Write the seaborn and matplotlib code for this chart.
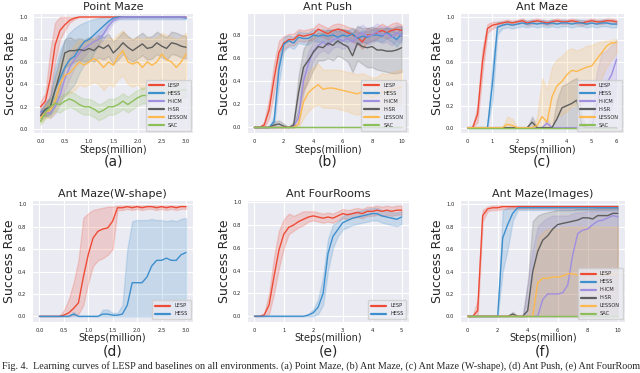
import numpy as np
import pandas as pd
import seaborn as sns
import matplotlib.pyplot as plt

# methods and colours
methods = ['LESP', 'HESS', 'H-ICM', 'H-SR', 'LESSON', 'SAC']
colors = ['#ee4b36', '#3d8fcd', '#a08ee0', '#5d5d5d', '#fdb94e', '#8cbf5a']

# ---------------- (a) Point Maze, steps 0..3.0 ----------------
a_x = np.linspace(0, 3.0, 31)
a_lesp = [0.20, 0.25, 0.45, 0.75, 0.88, 0.93, 0.97, 0.99] + [1.0] * 23
a_lesp_lo = [0.15, 0.12, 0.30, 0.60, 0.80, 0.88, 0.95, 0.98] + [1.0] * 23
a_lesp_hi = [0.25, 0.32, 0.70, 0.95, 1.0, 1.0, 1.0, 1.0] + [1.0] * 23
a_hess = [0.15, 0.17, 0.20, 0.35, 0.45, 0.55, 0.62, 0.65, 0.72, 0.78, 0.80, 0.84, 0.88, 0.92, 0.96, 0.99] + [1.0] * 14 + [0.99]
a_hess_lo = [0.12, 0.12, 0.12, 0.20, 0.25, 0.30, 0.35, 0.40, 0.50, 0.58, 0.60, 0.68, 0.76, 0.85, 0.92, 0.97] + [0.98] * 15
a_hess_hi = [0.18, 0.22, 0.30, 0.55, 0.70, 0.80, 0.86, 0.90, 0.93, 0.95, 0.97, 0.98, 0.99, 1.0, 1.0, 1.0] + [1.0] * 15
a_hicm = [0.15, 0.15, 0.14, 0.20, 0.30, 0.45, 0.55, 0.62, 0.68, 0.72, 0.75, 0.78, 0.80, 0.85, 0.92, 0.97, 0.99] + [1.0] * 14
a_hicm_lo = [0.12, 0.12, 0.10, 0.14, 0.22, 0.35, 0.45, 0.55, 0.60, 0.65, 0.70, 0.73, 0.75, 0.80, 0.88, 0.95, 0.98] + [0.99] * 14
a_hicm_hi = [0.18, 0.18, 0.18, 0.27, 0.40, 0.55, 0.65, 0.70, 0.75, 0.78, 0.80, 0.83, 0.86, 0.90, 0.96, 0.99, 1.0] + [1.0] * 14
a_hsr = [0.12, 0.18, 0.20, 0.35, 0.50, 0.68, 0.70, 0.70, 0.71, 0.70, 0.72, 0.70, 0.74, 0.72, 0.75, 0.68,
         0.72, 0.77, 0.73, 0.70, 0.73, 0.76, 0.72, 0.73, 0.77, 0.74, 0.72, 0.77, 0.76, 0.74, 0.73]
a_hsr_lo = [0.08, 0.12, 0.14, 0.25, 0.38, 0.55, 0.58, 0.60, 0.62, 0.60, 0.62, 0.60, 0.64, 0.62, 0.65, 0.58,
            0.62, 0.67, 0.63, 0.60, 0.63, 0.66, 0.62, 0.63, 0.67, 0.64, 0.62, 0.67, 0.66, 0.64, 0.63]
a_hsr_hi = [0.16, 0.24, 0.28, 0.48, 0.64, 0.80, 0.82, 0.80, 0.81, 0.80, 0.82, 0.80, 0.84, 0.82, 0.85, 0.78,
            0.82, 0.87, 0.83, 0.80, 0.83, 0.86, 0.82, 0.83, 0.87, 0.84, 0.82, 0.87, 0.86, 0.84, 0.83]
a_lesson = [0.10, 0.15, 0.17, 0.25, 0.40, 0.48, 0.50, 0.55, 0.60, 0.57, 0.60, 0.63, 0.60, 0.55, 0.60, 0.57,
            0.65, 0.70, 0.60, 0.58, 0.60, 0.55, 0.60, 0.57, 0.60, 0.67, 0.62, 0.60, 0.55, 0.60, 0.67]
a_lesson_lo = [0.06, 0.10, 0.10, 0.15, 0.25, 0.30, 0.32, 0.35, 0.40, 0.38, 0.40, 0.42, 0.40, 0.35, 0.40, 0.38,
               0.45, 0.48, 0.40, 0.38, 0.40, 0.35, 0.40, 0.38, 0.40, 0.45, 0.42, 0.40, 0.38, 0.42, 0.46]
a_lesson_hi = [0.14, 0.20, 0.25, 0.40, 0.58, 0.68, 0.70, 0.75, 0.80, 0.78, 0.80, 0.82, 0.80, 0.78, 0.82, 0.80,
               0.85, 0.88, 0.82, 0.80, 0.82, 0.80, 0.82, 0.80, 0.82, 0.86, 0.84, 0.82, 0.80, 0.82, 0.86]
a_sac = [0.07, 0.15, 0.20, 0.23, 0.22, 0.25, 0.27, 0.25, 0.22, 0.20, 0.20, 0.18, 0.15, 0.17, 0.20, 0.20,
         0.22, 0.25, 0.22, 0.25, 0.28, 0.30, 0.30, 0.33, 0.32, 0.33, 0.32, 0.33, 0.34, 0.35, 0.35]
a_sac_lo = [0.04, 0.10, 0.13, 0.16, 0.15, 0.18, 0.20, 0.18, 0.15, 0.13, 0.13, 0.11, 0.08, 0.10, 0.13, 0.13,
            0.15, 0.18, 0.15, 0.18, 0.21, 0.23, 0.23, 0.26, 0.25, 0.26, 0.25, 0.26, 0.27, 0.28, 0.28]
a_sac_hi = [0.10, 0.20, 0.27, 0.30, 0.29, 0.32, 0.34, 0.32, 0.29, 0.27, 0.27, 0.25, 0.22, 0.24, 0.27, 0.27,
            0.29, 0.32, 0.29, 0.32, 0.35, 0.37, 0.37, 0.40, 0.39, 0.40, 0.39, 0.40, 0.41, 0.42, 0.42]

# ---------------- (b) Ant Push, steps 0..10 ----------------
b_x = np.linspace(0, 10, 31)
b_lesp = [0, 0, 0.02, 0.15, 0.42, 0.65, 0.73, 0.76, 0.76, 0.80, 0.79, 0.80, 0.81, 0.85, 0.83, 0.81,
          0.84, 0.85, 0.84, 0.82, 0.80, 0.78, 0.74, 0.80, 0.80, 0.82, 0.84, 0.82, 0.84, 0.85, 0.84]
b_lesp_lo = [0, 0, 0, 0.08, 0.30, 0.55, 0.68, 0.71, 0.71, 0.75, 0.74, 0.75, 0.76, 0.80, 0.78, 0.76,
             0.79, 0.80, 0.79, 0.77, 0.74, 0.72, 0.68, 0.74, 0.75, 0.77, 0.79, 0.77, 0.79, 0.80, 0.79]
b_lesp_hi = [0, 0, 0.05, 0.25, 0.55, 0.75, 0.79, 0.81, 0.81, 0.85, 0.84, 0.85, 0.86, 0.90, 0.88, 0.86,
             0.89, 0.90, 0.89, 0.87, 0.86, 0.84, 0.80, 0.86, 0.85, 0.87, 0.90, 0.87, 0.90, 0.91, 0.89]
b_hess = [0, 0, 0, 0, 0.05, 0.50, 0.72, 0.75, 0.73, 0.78, 0.77, 0.77, 0.80, 0.79, 0.80, 0.79,
          0.80, 0.78, 0.80, 0.79, 0.81, 0.77, 0.79, 0.78, 0.80, 0.80, 0.79, 0.82, 0.79, 0.76, 0.81]
b_hess_lo = [0, 0, 0, 0, 0.0, 0.38, 0.66, 0.70, 0.68, 0.73, 0.72, 0.72, 0.75, 0.74, 0.75, 0.74,
             0.75, 0.73, 0.75, 0.74, 0.76, 0.72, 0.74, 0.73, 0.75, 0.75, 0.74, 0.77, 0.74, 0.70, 0.76]
b_hess_hi = [0, 0, 0, 0, 0.10, 0.62, 0.78, 0.80, 0.78, 0.83, 0.82, 0.82, 0.85, 0.84, 0.85, 0.84,
             0.85, 0.83, 0.85, 0.84, 0.86, 0.82, 0.84, 0.83, 0.85, 0.85, 0.84, 0.87, 0.84, 0.82, 0.86]
b_hicm = [0, 0, 0, 0, 0, 0, 0, 0, 0.01, 0.08, 0.40, 0.55, 0.66, 0.71, 0.74, 0.71,
          0.76, 0.77, 0.75, 0.77, 0.74, 0.79, 0.82, 0.79, 0.80, 0.83, 0.80, 0.81, 0.78, 0.82, 0.80]
b_hicm_lo = [0, 0, 0, 0, 0, 0, 0, 0, 0, 0.02, 0.28, 0.45, 0.58, 0.64, 0.67, 0.64,
             0.69, 0.70, 0.68, 0.70, 0.67, 0.72, 0.75, 0.72, 0.73, 0.76, 0.73, 0.74, 0.71, 0.75, 0.73]
b_hicm_hi = [0, 0, 0, 0, 0, 0, 0, 0, 0.03, 0.15, 0.52, 0.65, 0.74, 0.78, 0.81, 0.78,
             0.83, 0.84, 0.82, 0.84, 0.81, 0.86, 0.89, 0.86, 0.87, 0.90, 0.87, 0.88, 0.85, 0.89, 0.87]
b_hsr = [0, 0, 0, 0, 0.02, 0.03, 0.01, 0, 0.02, 0.30, 0.52, 0.58, 0.65, 0.70, 0.69, 0.73,
         0.71, 0.75, 0.72, 0.70, 0.62, 0.73, 0.70, 0.69, 0.70, 0.67, 0.67, 0.66, 0.66, 0.67, 0.69]
b_hsr_lo = [0, 0, 0, 0, 0, 0, 0, 0, 0, 0.15, 0.32, 0.40, 0.50, 0.58, 0.58, 0.60,
            0.58, 0.62, 0.60, 0.57, 0.48, 0.58, 0.55, 0.52, 0.52, 0.50, 0.49, 0.48, 0.47, 0.47, 0.48]
b_hsr_hi = [0, 0, 0, 0, 0.05, 0.06, 0.03, 0, 0.05, 0.45, 0.68, 0.75, 0.80, 0.82, 0.82, 0.85,
            0.84, 0.86, 0.85, 0.84, 0.82, 0.88, 0.86, 0.86, 0.87, 0.86, 0.86, 0.86, 0.86, 0.87, 0.88]
b_lesson = [0] * 9 + [0.03, 0.22, 0.30, 0.34, 0.37, 0.33, 0.34, 0.34, 0.33, 0.32, 0.31, 0.30,
                      0.29, 0.31, 0.28, 0.26, 0.28, 0.31, 0.30, 0.33, 0.34, 0.35]
b_lesson_lo = [0] * 9 + [0.0, 0.08, 0.14, 0.18, 0.20, 0.17, 0.17, 0.17, 0.16, 0.15, 0.14, 0.12,
                         0.11, 0.13, 0.11, 0.10, 0.12, 0.15, 0.15, 0.18, 0.19, 0.20]
b_lesson_hi = [0] * 9 + [0.08, 0.38, 0.48, 0.52, 0.55, 0.50, 0.50, 0.50, 0.50, 0.49, 0.48, 0.47,
                         0.46, 0.47, 0.45, 0.43, 0.44, 0.47, 0.46, 0.48, 0.49, 0.50]
b_sac = [0] * 31

# ---------------- (c) Ant Maze, steps 0..6 ----------------
c_x = np.linspace(0, 6, 31)
c_lesp = [0, 0, 0.12, 0.60, 0.90, 0.93, 0.94, 0.95, 0.96, 0.95, 0.96, 0.97, 0.95, 0.96, 0.97, 0.96,
          0.95, 0.96, 0.97, 0.96, 0.96, 0.97, 0.96, 0.95, 0.96, 0.97, 0.96, 0.96, 0.97, 0.97, 0.96]
c_lesp_lo = [0, 0, 0.05, 0.50, 0.86, 0.90, 0.92, 0.93, 0.94, 0.93, 0.94, 0.95, 0.93, 0.94, 0.95, 0.94,
             0.93, 0.94, 0.95, 0.94, 0.94, 0.95, 0.94, 0.93, 0.94, 0.95, 0.94, 0.94, 0.95, 0.95, 0.94]
c_lesp_hi = [0, 0, 0.20, 0.72, 0.94, 0.96, 0.96, 0.97, 0.98, 0.97, 0.98, 0.99, 0.97, 0.98, 0.99, 0.98,
             0.97, 0.98, 0.99, 0.98, 0.98, 0.99, 0.98, 0.97, 0.98, 0.99, 0.98, 0.98, 0.99, 0.99, 0.98]
c_hess = [0, 0, 0, 0, 0, 0.40, 0.91, 0.93, 0.94, 0.93, 0.94, 0.95, 0.94, 0.95, 0.94, 0.95,
          0.94, 0.95, 0.94, 0.95, 0.95, 0.94, 0.95, 0.95, 0.94, 0.95, 0.94, 0.95, 0.95, 0.94, 0.94]
c_hess_lo = [0, 0, 0, 0, 0, 0.25, 0.85, 0.90, 0.91, 0.90, 0.91, 0.92, 0.91, 0.92, 0.91, 0.92,
             0.91, 0.92, 0.91, 0.92, 0.92, 0.91, 0.92, 0.92, 0.91, 0.92, 0.91, 0.92, 0.92, 0.91, 0.91]
c_hess_hi = [0, 0, 0, 0, 0, 0.58, 0.96, 0.96, 0.97, 0.96, 0.97, 0.98, 0.97, 0.98, 0.97, 0.98,
             0.97, 0.98, 0.97, 0.98, 0.98, 0.97, 0.98, 0.98, 0.97, 0.98, 0.97, 0.98, 0.98, 0.97, 0.97]
c_hicm = [0] * 16 + [0.04, 0, 0, 0, 0, 0, 0, 0.02, 0, 0, 0.20, 0.37, 0.40, 0.48, 0.62]
c_hicm_lo = [0] * 26 + [0.02, 0.10, 0.12, 0.18, 0.40]
c_hicm_hi = [0] * 16 + [0.08, 0, 0, 0, 0, 0, 0, 0.05, 0, 0.10, 0.50, 0.68, 0.70, 0.75, 0.80]
c_hsr = [0] * 13 + [0.05] + [0] * 4 + [0.08, 0.18, 0.20, 0.22, 0.25, 0.02] + [0] * 7
c_hsr_lo = [0] * 31
c_hsr_hi = [0] * 13 + [0.10] + [0] * 4 + [0.25, 0.38, 0.40, 0.43, 0.45, 0.10] + [0] * 7
c_lesson = [0] * 8 + [0.03, 0.02] + [0] * 4 + [0.02, 0.10, 0.05, 0.28, 0.38, 0.42, 0.48, 0.52, 0.51,
                                              0.53, 0.55, 0.56, 0.62, 0.68, 0.74, 0.77, 0.77]
c_lesson_lo = [0] * 17 + [0.05, 0.10, 0.12, 0.15, 0.20, 0.20, 0.22, 0.25, 0.28, 0.35, 0.45, 0.55, 0.62, 0.68]
c_lesson_hi = [0] * 8 + [0.10, 0.08] + [0] * 4 + [0.10, 0.45, 0.35, 0.55, 0.62, 0.65, 0.70, 0.72, 0.70,
                                                 0.72, 0.74, 0.75, 0.77, 0.78, 0.79, 0.80, 0.80]
c_sac = [0] * 31

# ---------------- (d) Ant Maze(W-shape), steps 0..3.0 ----------------
d_x = np.linspace(0, 3.0, 31)
d_lesp = [0, 0, 0, 0, 0, 0.01, 0.03, 0.07, 0.12, 0.35, 0.55, 0.70, 0.76, 0.78, 0.79, 0.85,
          0.97, 0.97, 0.98, 0.97, 0.98, 0.97, 0.98, 0.98, 0.97, 0.98, 0.97, 0.98, 0.97, 0.98, 0.98]
d_lesp_lo = [0, 0, 0, 0, 0, 0, 0, 0.01, 0.02, 0.10, 0.30, 0.45, 0.50, 0.52, 0.55, 0.60,
             0.95, 0.95, 0.96, 0.95, 0.96, 0.95, 0.96, 0.96, 0.95, 0.96, 0.95, 0.96, 0.95, 0.96, 0.96]
d_lesp_hi = [0, 0, 0, 0, 0, 0.05, 0.15, 0.30, 0.50, 0.88, 0.92, 0.95, 0.96, 0.97, 0.98, 0.98] + [0.99] * 15
d_hess = [0] * 7 + [0.02] + [0] * 5 + [0.02, 0.02, 0.01, 0.01, 0.02, 0.10, 0.30, 0.30, 0.30, 0.35,
                                      0.45, 0.50, 0.50, 0.52, 0.50, 0.50, 0.55, 0.57]
d_hess_lo = [0] * 31
d_hess_hi = [0] * 7 + [0.04] + [0] * 5 + [0.06, 0.06, 0.03, 0.03, 0.10, 0.60, 0.85, 0.86, 0.86, 0.86,
                                         0.87, 0.86, 0.86, 0.85, 0.86, 0.85, 0.87, 0.88]

# ---------------- (e) Ant FourRooms, steps 0..5 ----------------
e_x = np.linspace(0, 5, 31)
e_lesp = [0, 0, 0.01, 0.10, 0.35, 0.58, 0.72, 0.78, 0.80, 0.83, 0.85, 0.87, 0.88, 0.87, 0.86, 0.87,
          0.86, 0.88, 0.90, 0.89, 0.90, 0.91, 0.90, 0.92, 0.92, 0.93, 0.92, 0.93, 0.92, 0.93, 0.93]
e_lesp_lo = [0, 0, 0, 0.02, 0.20, 0.42, 0.60, 0.72, 0.75, 0.78, 0.80, 0.83, 0.84, 0.83, 0.82, 0.83,
             0.82, 0.84, 0.86, 0.85, 0.86, 0.87, 0.86, 0.88, 0.88, 0.89, 0.88, 0.89, 0.88, 0.89, 0.89]
e_lesp_hi = [0, 0, 0.03, 0.20, 0.52, 0.75, 0.85, 0.90, 0.88, 0.90, 0.92, 0.92, 0.92, 0.91, 0.90, 0.91,
             0.90, 0.92, 0.94, 0.93, 0.94, 0.95, 0.94, 0.96, 0.96, 0.97, 0.96, 0.97, 0.96, 0.97, 0.97]
e_hess = [0] * 11 + [0.01, 0.03, 0.08, 0.20, 0.55, 0.70, 0.76, 0.82, 0.84, 0.86, 0.87, 0.88, 0.89,
                     0.90, 0.90, 0.88, 0.87, 0.86, 0.85, 0.87]
e_hess_lo = [0] * 11 + [0, 0, 0.02, 0.10, 0.40, 0.60, 0.70, 0.76, 0.78, 0.80, 0.81, 0.82, 0.83,
                        0.84, 0.84, 0.82, 0.81, 0.80, 0.79, 0.81]
e_hess_hi = [0] * 11 + [0.02, 0.06, 0.15, 0.35, 0.68, 0.80, 0.83, 0.88, 0.90, 0.91, 0.92, 0.93, 0.94,
                        0.95, 0.95, 0.93, 0.92, 0.91, 0.91, 0.92]

# ---------------- (f) Ant Maze(Images), steps 0..10 ----------------
f_x = np.linspace(0, 10, 31)
f_lesp = [0, 0, 0.05, 0.90, 0.96, 0.97, 0.97] + [0.98] * 24
f_lesp_lo = [0, 0, 0.0, 0.85, 0.94, 0.95, 0.95] + [0.96] * 24
f_lesp_hi = [0, 0, 0.15, 0.95, 0.98, 0.99, 0.99] + [0.99] * 24
f_hess = [0] * 6 + [0.0, 0.70, 0.82, 0.92, 0.97] + [0.97] * 20
f_hess_lo = [0] * 6 + [0.0, 0.40, 0.60, 0.85, 0.95] + [0.95] * 20
f_hess_hi = [0] * 6 + [0.0, 0.95, 0.97, 0.98, 0.99] + [0.99] * 20
f_hicm = [0] * 15 + [0.15, 0.20, 0.20, 0.20, 0.21, 0.28, 0.55, 0.74, 0.77, 0.78, 0.82, 0.85, 0.86,
                     0.88, 0.90, 0.89]
f_hicm_lo = [0] * 31
f_hicm_hi = [0] * 12 + [0.30, 0.60, 0.80, 0.85, 0.88, 0.90, 0.90, 0.90, 0.90, 0.92, 0.93, 0.93, 0.94,
                        0.94, 0.95, 0.95, 0.95, 0.95, 0.95]
f_hsr = [0] * 9 + [0.02] + [0] * 2 + [0.05, 0.40, 0.58, 0.68, 0.72, 0.78, 0.82, 0.83, 0.84, 0.85, 0.86,
                                     0.88, 0.88, 0.87, 0.90, 0.90, 0.90, 0.92, 0.92]
f_hsr_lo = [0] * 31
f_hsr_hi = [0] * 9 + [0.04] + [0] * 2 + [0.30, 0.85, 0.90, 0.92, 0.93, 0.94, 0.95, 0.95, 0.95, 0.95,
                                        0.96, 0.96, 0.96, 0.96, 0.97, 0.97, 0.97, 0.97, 0.97]
f_lesson = [0] * 14 + [0.30, 0.34, 0.34, 0.35, 0.35, 0.36, 0.38, 0.38, 0.37, 0.38, 0.37, 0.38, 0.37,
                       0.38, 0.37, 0.38, 0.37]
f_lesson_lo = [0] * 31
f_lesson_hi = [0] * 13 + [0.30, 0.70, 0.75, 0.78, 0.78, 0.78, 0.80, 0.80, 0.80, 0.80, 0.80, 0.80,
                          0.80, 0.80, 0.80, 0.80, 0.80, 0.80]
f_sac = [0] * 31


def long_frame(x, series):
    # each step gets lo / mean / hi rows -> median = mean, 100% interval = band
    rows = []
    for name, (mean, lo, hi) in series.items():
        for xi, m, l, h in zip(x, mean, lo, hi):
            for v in (l, m, h):
                rows.append((xi, v, name))
    return pd.DataFrame(rows, columns=['step', 'rate', 'method'])


panels = [
    ('Point Maze', '(a)', a_x, {'LESP': (a_lesp, a_lesp_lo, a_lesp_hi), 'HESS': (a_hess, a_hess_lo, a_hess_hi),
                                'H-ICM': (a_hicm, a_hicm_lo, a_hicm_hi), 'H-SR': (a_hsr, a_hsr_lo, a_hsr_hi),
                                'LESSON': (a_lesson, a_lesson_lo, a_lesson_hi), 'SAC': (a_sac, a_sac_lo, a_sac_hi)},
     [0.0, 0.5, 1.0, 1.5, 2.0, 2.5, 3.0], [0.0, 0.2, 0.4, 0.6, 0.8, 1.0], (-0.035, 1.035)),
    ('Ant Push', '(b)', b_x, {'LESP': (b_lesp, b_lesp_lo, b_lesp_hi), 'HESS': (b_hess, b_hess_lo, b_hess_hi),
                              'H-ICM': (b_hicm, b_hicm_lo, b_hicm_hi), 'H-SR': (b_hsr, b_hsr_lo, b_hsr_hi),
                              'LESSON': (b_lesson, b_lesson_lo, b_lesson_hi), 'SAC': (b_sac, b_sac, b_sac)},
     [0, 2, 4, 6, 8, 10], [0.0, 0.2, 0.4, 0.6, 0.8], (-0.05, 0.99)),
    ('Ant Maze', '(c)', c_x, {'LESP': (c_lesp, c_lesp_lo, c_lesp_hi), 'HESS': (c_hess, c_hess_lo, c_hess_hi),
                              'H-ICM': (c_hicm, c_hicm_lo, c_hicm_hi), 'H-SR': (c_hsr, c_hsr_lo, c_hsr_hi),
                              'LESSON': (c_lesson, c_lesson_lo, c_lesson_hi), 'SAC': (c_sac, c_sac, c_sac)},
     [0, 1, 2, 3, 4, 5, 6], [0.0, 0.2, 0.4, 0.6, 0.8, 1.0], (-0.05, 1.04)),
    ('Ant Maze(W-shape)', '(d)', d_x, {'LESP': (d_lesp, d_lesp_lo, d_lesp_hi), 'HESS': (d_hess, d_hess_lo, d_hess_hi)},
     [0.0, 0.5, 1.0, 1.5, 2.0, 2.5, 3.0], [0.0, 0.2, 0.4, 0.6, 0.8, 1.0], (-0.05, 1.04)),
    ('Ant FourRooms', '(e)', e_x, {'LESP': (e_lesp, e_lesp_lo, e_lesp_hi), 'HESS': (e_hess, e_hess_lo, e_hess_hi)},
     [0, 1, 2, 3, 4, 5], [0.0, 0.2, 0.4, 0.6, 0.8, 1.0], (-0.05, 1.02)),
    ('Ant Maze(Images)', '(f)', f_x, {'LESP': (f_lesp, f_lesp_lo, f_lesp_hi), 'HESS': (f_hess, f_hess_lo, f_hess_hi),
                                      'H-ICM': (f_hicm, f_hicm_lo, f_hicm_hi), 'H-SR': (f_hsr, f_hsr_lo, f_hsr_hi),
                                      'LESSON': (f_lesson, f_lesson_lo, f_lesson_hi), 'SAC': (f_sac, f_sac, f_sac)},
     [0, 2, 4, 6, 8, 10], [0.0, 0.2, 0.4, 0.6, 0.8, 1.0], (-0.05, 1.04)),
]

# axes boxes in figure fractions (left, bottom, width, height)
boxes = [
    (0.052, 0.643, 0.250, 0.322), (0.386, 0.643, 0.253, 0.322), (0.719, 0.643, 0.256, 0.322),
    (0.050, 0.137, 0.252, 0.327), (0.386, 0.137, 0.253, 0.327), (0.719, 0.137, 0.258, 0.327),
]

sns.set_style('darkgrid')
fig = plt.figure(figsize=(6.4, 3.73), dpi=100)
palette = dict(zip(methods, colors))

for (title, tag, x, series, xt, yt, ylim), box in zip(panels, boxes):
    ax = fig.add_axes(box)
    df = long_frame(x, series)
    sns.lineplot(data=df, x='step', y='rate', hue='method', palette=palette,
                 estimator='median', errorbar=('pi', 100), linewidth=1.0, ax=ax)
    ax.set_title(title, fontsize=8, pad=2)
    ax.set_xlabel('Steps(million)', fontsize=7)
    ax.set_ylabel('Success Rate', fontsize=9)
    ax.xaxis.set_label_coords(0.5, -0.095)
    ax.yaxis.set_label_coords(-0.1, 0.5)
    ax.set_xticks(xt)
    ax.set_yticks(yt)
    ax.set_xticklabels([f'{t:.1f}' if isinstance(t, float) else str(t) for t in xt])
    ax.set_yticklabels([f'{t:.1f}' for t in yt])
    ax.tick_params(labelsize=3.8, pad=0.6)
    ax.set_xlim(x[0] - (x[-1] - x[0]) * 0.05, x[-1] + (x[-1] - x[0]) * 0.05)
    ax.set_ylim(*ylim)
    ax.legend(loc='lower right', fontsize=3.6, handlelength=3, framealpha=0.8,
              borderpad=0.6, labelspacing=0.6)
    for ln in ax.get_legend().get_lines():
        ln.set_linewidth(1.6)
    ax.text(0.5, -0.24, tag, transform=ax.transAxes, ha='center', va='center', fontsize=10)

# figure caption, as much of it as the crop shows
fig.text(0.003, 1 - 361 / 373,
         'Fig. 4.  Learning curves of LESP and baselines on all environments. (a) Point Maze, (b) Ant Maze, '
         '(c) Ant Maze (W-shape), (d) Ant Push, (e) Ant FourRoom',
         ha='left', va='top', fontsize=7.3, family='Liberation Serif')

fig.savefig('out.png', dpi=100)
